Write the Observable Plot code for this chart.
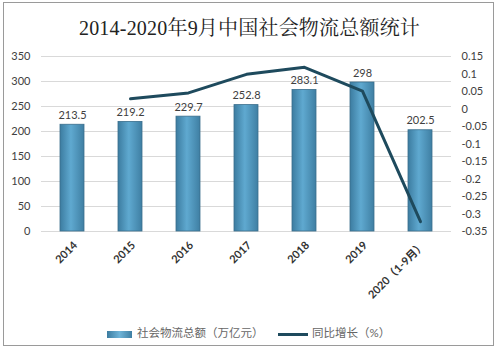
<!DOCTYPE html>
<html>
<head>
<meta charset="utf-8">
<script src="https://cdn.jsdelivr.net/npm/d3@7"></script>
<script src="https://cdn.jsdelivr.net/npm/@observablehq/plot@0.6"></script>
<style>
  html, body { margin: 0; padding: 0; background: #fff; }
  #wrap { position: relative; width: 499px; height: 359px; overflow: hidden; background:#fff; }
  #border { position: absolute; left: 3px; top: 2px; width: 491px; height: 344px; border: 1px solid #9a9a9a; box-sizing: border-box; }
  #title { position: absolute; left: 0; top: 12px; width: 499px; text-align: center; font-family: "Liberation Serif", "Noto Serif CJK SC", "Noto Sans CJK SC", serif; font-size: 20px; color: #222; letter-spacing: 0.2px; }
  #chart { position: absolute; left: 0; top: 0; }
  #legend { position: absolute; top: 325px; left: 0; width: 499px; height: 16px; font-family: "Lato", "Noto Sans CJK SC", sans-serif; font-size: 11.5px; color: #666; }
  .lg { position: absolute; top: 0; line-height: 16px; white-space: nowrap; }
</style>
</head>
<body>
<div id="wrap">
  <div id="border"></div>
  <div id="title">2014-2020年9月中国社会物流总额统计</div>
  <div id="chart"></div>
  <div id="legend"></div>
</div>
<script>
// ---- data ----
const years = ["2014", "2015", "2016", "2017", "2018", "2019", "2020（1-9月）"];
const totals = [213.5, 219.2, 229.7, 252.8, 283.1, 298, 202.5];
const totalLabels = ["213.5", "219.2", "229.7", "252.8", "283.1", "298", "202.5"];
const growthYears = ["2015", "2016", "2017", "2018", "2019", "2020（1-9月）"];
const growth = [0.029, 0.046, 0.099, 0.119, 0.051, -0.322];
const leftTicks = [0, 50, 100, 150, 200, 250, 300, 350];
const rightTicks = [-0.35, -0.3, -0.25, -0.2, -0.15, -0.1, -0.05, 0, 0.05, 0.1, 0.15];
const rightTickLabels = ["-0.35", "-0.3", "-0.25", "-0.2", "-0.15", "-0.1", "-0.05", "0", "0.05", "0.1", "0.15"];
const seriesNames = ["社会物流总额（万亿元）", "同比增长（%）"];

// map right-axis values onto the left-axis domain [0, 350]
const rMin = -0.35, rMax = 0.15, lMax = 350;
const toLeft = v => Math.round((v - rMin) / (rMax - rMin) * lMax * 1000) / 1000;

const barData = years.map((y, i) => ({year: y, total: totals[i], label: totalLabels[i]}));
const lineData = growthYears.map((y, i) => ({year: y, g: growth[i], gl: toLeft(growth[i])}));
const rightMap = new Map(rightTicks.map((v, i) => [toLeft(v), rightTickLabels[i]]));

const plot = Plot.plot({
  width: 499,
  height: 359,
  marginLeft: 41,
  marginRight: 48,
  marginTop: 56,
  marginBottom: 128,
  style: {background: "transparent", fontFamily: "Lato, 'Noto Sans CJK SC', sans-serif", fontSize: "11px", color: "#404040"},
  x: {domain: years, paddingInner: 0.59, paddingOuter: 0.295},
  y: {domain: [0, lMax]},
  marks: [
    Plot.ruleY(leftTicks, {stroke: "#d9d9d9", strokeWidth: 1}),
    Plot.barY(barData, {x: "year", y: "total", fill: "url(#barGrad)", stroke: "#3a6e8c", strokeWidth: 0.8}),
    Plot.text(barData, {x: "year", y: "total", text: "label", dy: -6, lineAnchor: "bottom", fill: "#404040", fontSize: 11}),
    Plot.line(lineData, {x: "year", y: "gl", stroke: "#1e4a5d", strokeWidth: 3, curve: "linear", strokeLinejoin: "round"}),
    Plot.axisY(leftTicks, {anchor: "left", tickSize: 0, tickPadding: 11, fill: "#404040", label: null, fontSize: 11}),
    Plot.axisY(rightTicks.map(toLeft), {anchor: "right", tickSize: 0, tickPadding: 10, tickFormat: d => rightMap.get(d), fill: "#404040", label: null, fontSize: 11}),
    Plot.axisX({tickSize: 0, tickPadding: 12, tickRotate: -45, label: null, fill: "#333", fontSize: 11, fontWeight: "bold", dx: 3})
  ]
});

// gradient definition for the bars
const svg = d3.select(plot);
const defs = svg.insert("defs", ":first-child");
const grad = defs.append("linearGradient").attr("id", "barGrad").attr("x1", "0").attr("x2", "1").attr("y1", "0").attr("y2", "0");
grad.append("stop").attr("offset", "0%").attr("stop-color", "#3c7ca0");
grad.append("stop").attr("offset", "45%").attr("stop-color", "#5fa9d0");
grad.append("stop").attr("offset", "100%").attr("stop-color", "#3f7fa3");
document.getElementById("chart").appendChild(plot);

// legend
const lg = document.getElementById("legend");
lg.innerHTML = `
  <div class="lg" style="left:107px;"><span style="display:inline-block;width:25px;height:7px;background:linear-gradient(90deg,#3c7ca0,#6fb4d8 50%,#3f7fa3);vertical-align:middle;margin-right:5px;"></span>${seriesNames[0]}</div>
  <div class="lg" style="left:278px;"><span style="display:inline-block;width:30px;height:3px;background:#1e4a5d;vertical-align:middle;margin-right:4px;"></span>${seriesNames[1]}</div>`;
</script>
</body>
</html>
